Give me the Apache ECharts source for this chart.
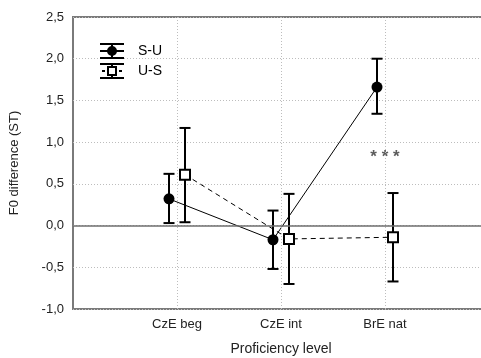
<!DOCTYPE html>
<html>
<head>
<meta charset="utf-8">
<script src="https://cdn.jsdelivr.net/npm/echarts@6/dist/echarts.min.js"></script>
<style>
html,body{margin:0;padding:0;background:#fff;}
#chart{width:481px;height:358px;}
</style>
</head>
<body>
<div id="chart"></div>
<script>
// ---- data ----
var categories = ['CzE beg', 'CzE int', 'BrE nat'];
var suMean = [0.32, -0.17, 1.66];
var suLow  = [0.03, -0.52, 1.34];
var suHigh = [0.62, 0.18, 2.00];
var usMean = [0.61, -0.16, -0.14];
var usLow  = [0.04, -0.70, -0.67];
var usHigh = [1.17, 0.38, 0.39];
var yMin = -1.0, yMax = 2.5, yStep = 0.5;
var sigLabel = '* * *';
var sigCategory = 'BrE nat';
var sigValue = 0.85;

// ---- build ----
var OFF = 8 / 104; // horizontal offset of each group in axis units
function pts(mean, off) {
  return mean.map(function (v, i) { return [i + 1 + off, v]; });
}
function bars(lo, hi, off) {
  return lo.map(function (v, i) { return [i + 1 + off, v, hi[i]]; });
}
function errRender(params, api) {
  var x = api.value(0);
  var p1 = api.coord([x, api.value(1)]);
  var p2 = api.coord([x, api.value(2)]);
  var hw = 5.5;
  var st = { stroke: '#000', lineWidth: 2, fill: null };
  return {
    type: 'group',
    children: [
      { type: 'line', shape: { x1: p1[0], y1: p1[1], x2: p2[0], y2: p2[1] }, style: st },
      { type: 'line', shape: { x1: p1[0] - hw, y1: p1[1], x2: p1[0] + hw, y2: p1[1] }, style: st },
      { type: 'line', shape: { x1: p2[0] - hw, y1: p2[1], x2: p2[0] + hw, y2: p2[1] }, style: st }
    ]
  };
}

var iconSU = 'path://M0 0H24V2H0Z M0 14H24V16H0Z M0 7H24V9H0Z M11 0H13V16H11Z M7 8A5 5 0 1 1 17 8A5 5 0 1 1 7 8Z';
var iconUS = 'path://M0 0H24V2H0Z M0 14H24V16H0Z M11 0H13V3H11Z M11 13H13V16H11Z M2 7H5V9H2Z M19 7H22V9H19Z M7 3H17V13H7Z M9 5V11H15V5Z';

var chart = echarts.init(document.getElementById('chart'), null, { renderer: 'canvas' });
var font = 'Liberation Sans, Arial, sans-serif';
chart.setOption({
  animation: false,
  backgroundColor: '#fff',
  textStyle: { fontFamily: font },
  grid: { left: 73, top: 17, width: 416, height: 292, outerBoundsMode: 'none', containLabel: false,
    show: true, borderColor: '#7a7a7a', borderWidth: 2, backgroundColor: 'transparent' },
  legend: {
    orient: 'vertical', left: 95, top: 38,
    itemWidth: 24, itemHeight: 16, itemGap: 4,
    textStyle: { fontFamily: font, fontSize: 14, color: '#000', padding: [0, 0, 0, 9] },
    data: [
      { name: 'S-U', icon: iconSU, itemStyle: { color: '#000', borderWidth: 0 } },
      { name: 'U-S', icon: iconUS, itemStyle: { color: '#000', borderWidth: 0 } }
    ],
    selectedMode: false
  },
  xAxis: {
    type: 'value', min: 0, max: categories.length + 1, interval: 1,
    axisLine: { show: false, onZero: false }, axisTick: { show: false },
    axisLabel: { color: '#222', fontSize: 13, margin: 9, fontFamily: font,
      formatter: function (v) { return categories[v - 1] || ''; } },
    splitLine: { show: false },
    name: 'Proficiency level', nameLocation: 'middle', nameGap: 33,
    nameTextStyle: { color: '#222', fontSize: 14, fontFamily: font }
  },
  yAxis: {
    type: 'value', min: yMin, max: yMax, interval: yStep,
    axisLine: { show: false }, axisTick: { show: false },
    axisLabel: { color: '#222', fontSize: 13, margin: 9, fontFamily: font,
      formatter: function (v) { return v.toFixed(1).replace('.', ','); } },
    splitLine: { show: true, lineStyle: { color: '#bdbdbd', type: [1, 2], width: 1 } },
    name: 'F0 difference (ST)', nameLocation: 'middle', nameGap: 52,
    nameTextStyle: { color: '#222', fontSize: 13, fontFamily: font }
  },
  series: [
    { type: 'line', name: 'S-U-line', data: pts(suMean, -OFF), showSymbol: false, symbol: 'none', z: 1,
      lineStyle: { color: '#000', width: 1 }, silent: true,
      markLine: { silent: true, symbol: 'none', label: { show: false }, animation: false,
        lineStyle: { color: '#6e6e6e', width: 1.5, type: 'solid' }, data: [{ yAxis: 0 }] } },
    { type: 'line', name: 'U-S-line', data: pts(usMean, OFF), showSymbol: false, symbol: 'none', z: 1,
      lineStyle: { color: '#000', width: 1, type: [5, 4] }, silent: true,
      markLine: { silent: true, symbol: 'none', label: { show: false }, animation: false,
        lineStyle: { color: '#bdbdbd', width: 1, type: [1, 2] },
        data: categories.map(function (c, i) { return { xAxis: i + 1 }; }) } },
    { type: 'custom', name: 'S-U-err', data: bars(suLow, suHigh, -OFF), renderItem: errRender, z: 2, silent: true },
    { type: 'custom', name: 'U-S-err', data: bars(usLow, usHigh, OFF), renderItem: errRender, z: 2, silent: true },
    { type: 'scatter', name: 'S-U', data: pts(suMean, -OFF), symbol: 'circle', symbolSize: 11, z: 3,
      itemStyle: { color: '#000', opacity: 1 } },
    { type: 'scatter', name: 'U-S', data: pts(usMean, OFF), symbol: 'rect', symbolSize: 10, z: 3,
      itemStyle: { color: '#fff', borderColor: '#000', borderWidth: 2, opacity: 1 } },
    { type: 'scatter', name: 'sig', data: [[categories.indexOf(sigCategory) + 1, sigValue]], symbolSize: 0, z: 3,
      label: { show: true, position: 'inside', formatter: sigLabel, fontSize: 17, fontWeight: 'bold', color: '#333', offset: [0, 3], fontFamily: font },
      silent: true }
  ]
});
</script>
</body>
</html>
